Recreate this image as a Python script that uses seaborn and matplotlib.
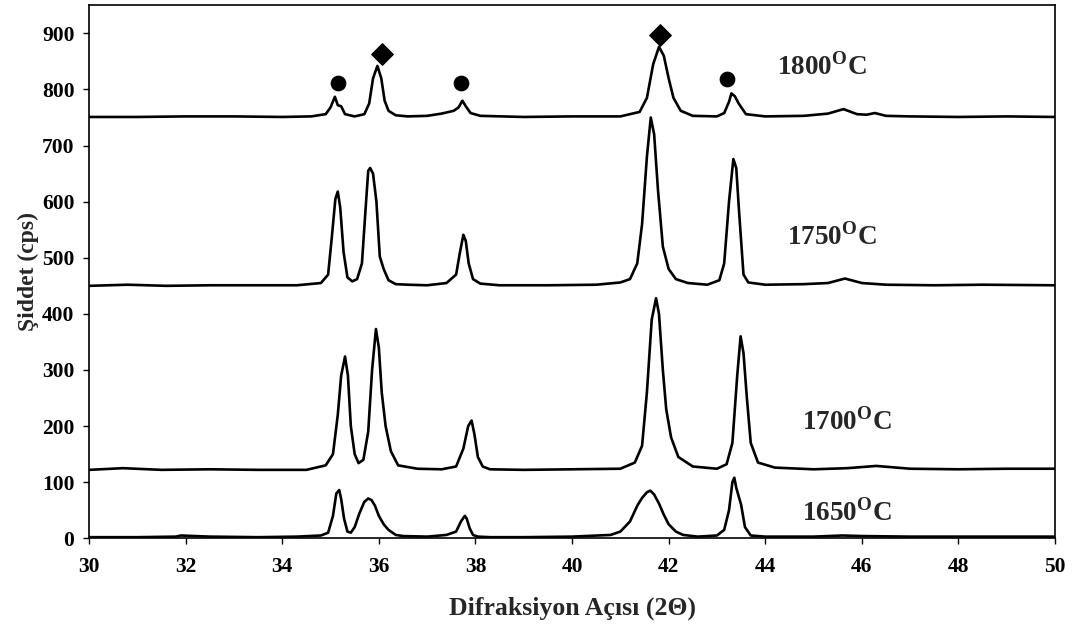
import numpy as np
import pandas as pd
import matplotlib
matplotlib.use("Agg")
import matplotlib.pyplot as plt
import seaborn as sns

# ---------------- data ----------------
x_1650 = [30, 31, 31.8, 31.9, 32.5, 33.5, 34.3, 34.8, 34.95, 35.05, 35.12, 35.18, 35.22, 35.28, 35.35,
          35.42, 35.5, 35.6, 35.7, 35.78, 35.85, 35.92, 36.0, 36.1, 36.2, 36.35, 36.5, 37.0, 37.4, 37.6,
          37.7, 37.78, 37.82, 37.88, 37.95, 38.05, 38.3, 39, 40, 40.8, 41.0, 41.2, 41.35, 41.45, 41.55,
          41.62, 41.7, 41.8, 41.9, 42.0, 42.15, 42.3, 42.6, 43.0, 43.15, 43.25, 43.32, 43.36, 43.4, 43.45,
          43.5, 43.58, 43.7, 44, 45, 45.6, 46, 47, 48, 49, 50]
y_1650 = [2, 2, 3, 5, 3, 2, 3, 5, 10, 40, 80, 86, 70, 35, 12,
          10, 20, 45, 65, 71, 68, 58, 40, 25, 15, 6, 4, 3, 6, 12,
          30, 40, 35, 18, 6, 3, 2, 2, 3, 6, 12, 30, 58, 72, 82,
          85, 78, 62, 42, 25, 12, 6, 3, 5, 15, 50, 100, 108, 90, 75,
          60, 20, 5, 3, 3, 5, 4, 3, 3, 3, 3]

x_1700 = [30, 30.7, 31.5, 32.5, 33.5, 34.5, 34.9, 35.05, 35.15, 35.22, 35.3, 35.36, 35.42, 35.5, 35.58,
          35.68, 35.78, 35.86, 35.94, 36.0, 36.06, 36.14, 36.25, 36.4, 36.8, 37.3, 37.6, 37.75, 37.85,
          37.92, 37.98, 38.05, 38.15, 38.3, 39, 40, 41, 41.3, 41.45, 41.55, 41.65, 41.74, 41.8, 41.88,
          41.95, 42.05, 42.2, 42.5, 43.0, 43.2, 43.32, 43.42, 43.49, 43.55, 43.62, 43.7, 43.85, 44.2,
          45, 45.7, 46.3, 47, 48, 49, 50]
y_1700 = [122, 125, 122, 123, 122, 122, 130, 150, 220, 290, 324, 290, 200, 150, 134,
          140, 190, 300, 373, 340, 260, 200, 155, 130, 124, 123, 128, 160, 200,
          210, 185, 145, 128, 123, 122, 123, 124, 135, 165, 260, 390, 428, 400, 300,
          230, 180, 145, 128, 124, 132, 170, 290, 360, 330, 250, 170, 135, 126,
          123, 125, 129, 124, 123, 124, 124]

x_1750 = [30, 30.8, 31.6, 32.5, 33.5, 34.3, 34.8, 34.95, 35.03, 35.1, 35.15, 35.2, 35.27, 35.35, 35.45,
          35.55, 35.65, 35.72, 35.78, 35.82, 35.88, 35.95, 36.02, 36.1, 36.2, 36.35, 36.6, 37.0, 37.4,
          37.6, 37.68, 37.75, 37.8, 37.86, 37.95, 38.1, 38.5, 39.5, 40.5, 41.0, 41.2, 41.35, 41.45, 41.55,
          41.63, 41.7, 41.78, 41.88, 42.0, 42.15, 42.4, 42.8, 43.05, 43.15, 43.25, 43.34, 43.4, 43.46,
          43.55, 43.65, 44, 44.8, 45.3, 45.65, 46, 46.5, 47.5, 48.5, 50]
y_1750 = [450, 452, 450, 451, 451, 451, 455, 470, 540, 605, 618, 590, 510, 465, 458,
          462, 490, 580, 655, 660, 650, 600, 502, 480, 460, 453, 452, 451, 455,
          470, 510, 541, 530, 490, 462, 454, 451, 451, 452, 456, 462, 490, 560, 680,
          750, 720, 620, 520, 480, 462, 455, 452, 460, 490, 600, 676, 660, 580,
          470, 456, 452, 453, 455, 463, 455, 452, 451, 452, 451]

x_1800 = [30, 31, 32, 33, 34, 34.6, 34.9, 35.0, 35.09, 35.15, 35.22, 35.3, 35.5, 35.7, 35.8, 35.88,
          35.97, 36.05, 36.12, 36.2, 36.35, 36.6, 37.0, 37.3, 37.55, 37.65, 37.73, 37.8, 37.9, 38.1,
          39, 40, 41, 41.4, 41.55, 41.68, 41.8, 41.9, 42.0, 42.1, 42.25, 42.5, 43.0, 43.15, 43.25,
          43.3, 43.37, 43.45, 43.6, 44, 44.8, 45.3, 45.62, 45.9, 46.1, 46.27, 46.5, 47, 48, 49, 50]
y_1800 = [751, 751, 752, 752, 751, 752, 756, 768, 787, 772, 770, 756, 752, 756, 775, 820,
          842, 820, 780, 762, 754, 752, 753, 757, 762, 768, 780, 770, 758, 753,
          751, 752, 752, 760, 785, 845, 876, 860, 820, 785, 762, 753, 752, 758, 778,
          793, 788, 775, 756, 752, 753, 757, 765, 756, 755, 758, 753, 752, 751, 752, 751]

circle_x = [35.16, 37.70, 43.20]
circle_y = [812, 812, 818]
diamond_x = [36.07, 41.82]
diamond_y = [864, 897]

labels = ["1800", "1750", "1700", "1650"]
label_x = [45.17, 45.37, 45.69, 45.69]
label_y = [840, 538, 208, 45]

x_ticks = [30, 32, 34, 36, 38, 40, 42, 44, 46, 48, 50]
y_ticks = [0, 100, 200, 300, 400, 500, 600, 700, 800, 900]

# ---------------- plotting ----------------
sns.set_theme(style="ticks")
plt.rcParams['font.family'] = ['Liberation Serif', 'DejaVu Serif']
plt.rcParams['font.weight'] = 'bold'
plt.rcParams['mathtext.fontset'] = 'custom'
plt.rcParams['mathtext.rm'] = 'Liberation Serif:bold'
plt.rcParams['mathtext.bf'] = 'Liberation Serif:bold'

frames = []
for name, xs, ys in [("1650", x_1650, y_1650), ("1700", x_1700, y_1700),
                     ("1750", x_1750, y_1750), ("1800", x_1800, y_1800)]:
    frames.append(pd.DataFrame({"theta": xs, "I": ys, "T": name}))
df = pd.concat(frames, ignore_index=True)

fig = plt.figure(figsize=(10.78, 6.33), dpi=100)
ax = fig.add_axes([0.0826, 0.1496, 0.9787 - 0.0826, 0.9916 - 0.1496])

sns.lineplot(data=df, x="theta", y="I", hue="T", units="T", estimator=None, sort=False,
             palette={k: "black" for k in labels}, linewidth=1.9, legend=False, ax=ax)
sns.scatterplot(x=circle_x, y=circle_y, marker="o", s=110, color="black",
                edgecolor="black", ax=ax, zorder=5)
sns.scatterplot(x=diamond_x, y=diamond_y, marker="D", s=120, color="black",
                edgecolor="black", ax=ax, zorder=5)

for lab, lx, ly in zip(labels, label_x, label_y):
    ax.text(lx, ly, lab + r"$^{\mathrm{O}}$C", ha="center", va="center",
            fontsize=19.5, fontweight="bold")

ax.set_xlim(30, 50)
ax.set_ylim(0, 950)
ax.set_xticks(x_ticks)
ax.set_yticks(y_ticks)
ax.tick_params(axis="both", direction="out", length=4.5, width=1, labelsize=15.5, colors="black")
ax.tick_params(axis="x", pad=9)
ax.tick_params(axis="y", pad=6)
for lbl in ax.get_xticklabels() + ax.get_yticklabels():
    lbl.set_fontweight("bold")

ax.set_xlabel("Difraksiyon Açısı (2Θ)", fontsize=18.5, fontweight="bold", labelpad=14)
ax.set_ylabel("Şiddet (cps)", fontsize=17, fontweight="bold", labelpad=2)

for sp in ax.spines.values():
    sp.set_visible(True)
    sp.set_color("black")
    sp.set_linewidth(1.2)

fig.savefig("out.png", dpi=100, facecolor="white")
